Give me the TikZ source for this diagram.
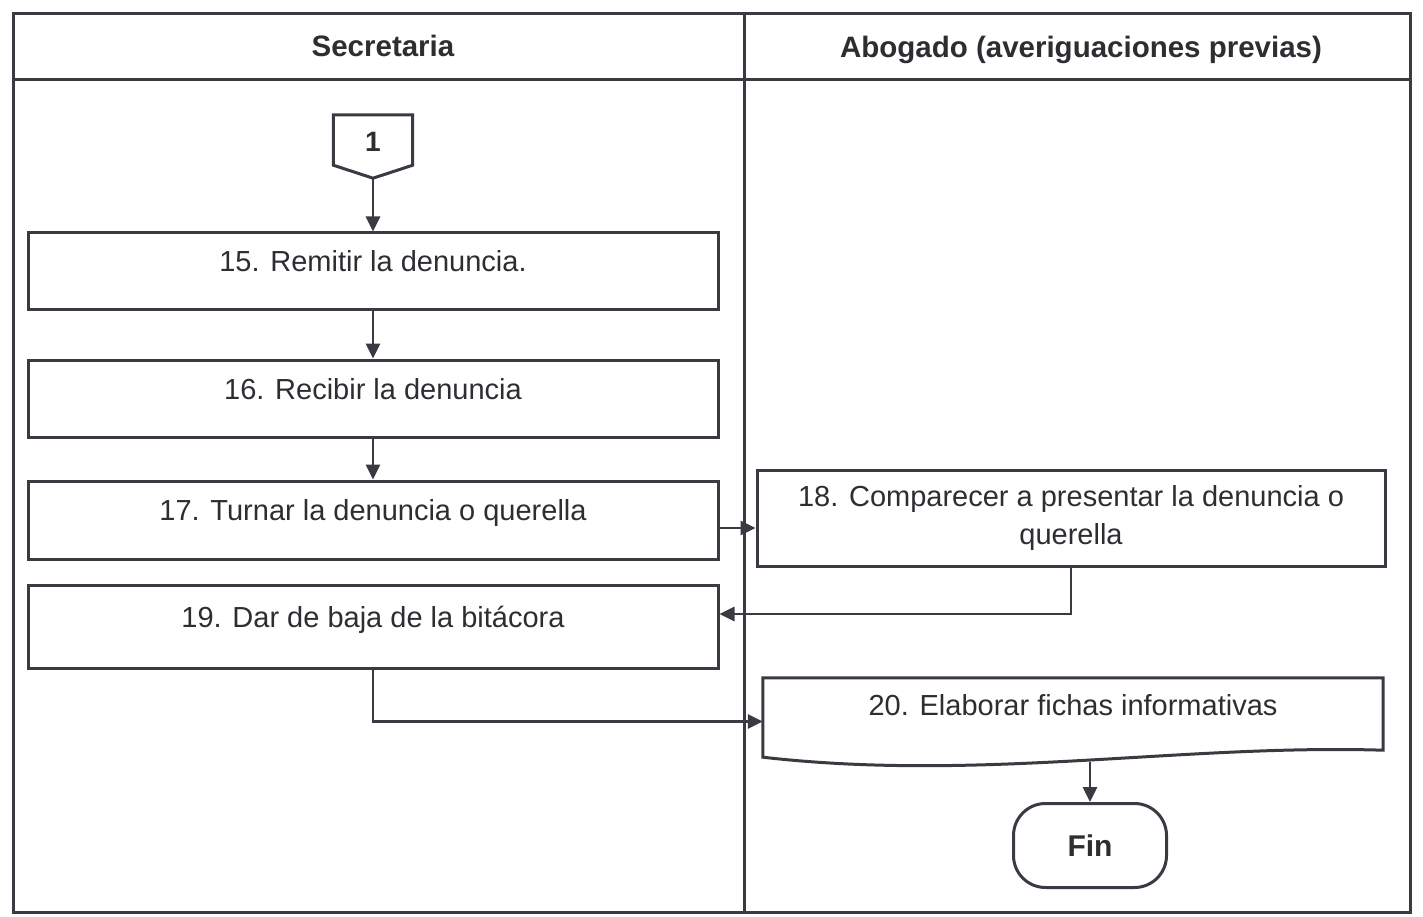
\documentclass[tikz,border=0pt]{standalone}
\usepackage{fontspec}
\setmainfont{Liberation Sans}
\usetikzlibrary{arrows.meta}
\definecolor{ink}{RGB}{58,58,66}
\definecolor{txt}{RGB}{45,45,50}

\begin{document}
\begin{tikzpicture}[x=1pt, y=-1pt,
    every node/.style={text=txt},
    boxline/.style={draw=ink, line width=3pt},
    arr/.style={draw=ink, line width=2.8pt, -{Triangle[length=15pt,width=14pt]}},
    head/.style={font=\fontsize{29.5}{34}\selectfont\bfseries},
    box/.style={boxline, minimum width=690pt, minimum height=77pt, inner sep=0pt,
        text height=21pt, text depth=20pt, font=\fontsize{29}{38}\selectfont},
    endbox/.style={boxline, rounded corners=32pt, minimum width=153pt, minimum height=84pt,
        font=\fontsize{30}{34}\selectfont\bfseries}]
    \useasboundingbox (0,0) rectangle (1423,917);

    % Draw lanes
    \draw[boxline] (13,14) rectangle (1410,912);
    \draw[boxline] (13,80) -- (1410,80);
    \draw[boxline] (744,14) -- (744,912);
    \node[head] (hsec) at (383,46) {Secretaria};
    \node[head] (habo) at (1081,50) {Abogado (averiguaciones previas)};

    % Draw connector
    \node[minimum width=79pt, minimum height=63pt, inner sep=0pt, text height=20pt, text depth=9pt,
        font=\fontsize{28}{34}\selectfont\bfseries] (c1) at (373,146.5) {1};
    \draw[boxline] (c1.north west) -- (c1.north east) -- ([yshift=13pt]c1.south east)
        -- (c1.south) -- ([yshift=13pt]c1.south west) -- cycle;

    % Draw steps
    \node[box, minimum height=76pt] (b15) at (373,271) {15. Remitir la denuncia.};
    \node[box] (b16) at (373,398.5) {16. Recibir la denuncia};
    \node[box, minimum height=78pt] (b17) at (373,520) {17. Turnar la denuncia o querella};
    \node[boxline, minimum width=628pt, minimum height=96pt, align=center,
        font=\fontsize{29}{38}\selectfont] (b18) at (1071,518)
        {18. Comparecer a presentar la denuncia o\\querella};
    \node[box, minimum height=83pt] (b19) at (373,626.5) {19. Dar de baja de la bitácora};
    \node[minimum width=620pt, minimum height=87pt, inner sep=0pt, text height=21pt, text depth=33pt,
        font=\fontsize{29}{38}\selectfont] (b20) at (1073,721.5) {20. Elaborar fichas informativas};
    \draw[boxline] (b20.north west) -- (b20.north east) -- ([yshift=15pt]b20.south east)
        .. controls (1180,744) and (980,782) .. ([yshift=8pt]b20.south west) -- cycle;
    \node[endbox] (fin) at (1090,845.5) {Fin};

    % Draw arrows
    \coordinate (e17) at ([yshift=-8pt]b17.east);
    \coordinate (e19) at ([yshift=12.5pt]b19.east);
    \coordinate (w20) at (1090,761.5);
    \draw[arr] (c1.south) -- (b15.north);
    \draw[arr] (b15.south) -- (b16.north);
    \draw[arr] (b16.south) -- (b17.north);
    \draw[arr] (e17) -- (e17 -| b18.west);
    \draw[arr] (b18.south) |- (e19);
    \draw[arr] (b19.south) |- (b20.west);
    \draw[arr] (w20) -- (fin.north);
\end{tikzpicture}
\end{document}
